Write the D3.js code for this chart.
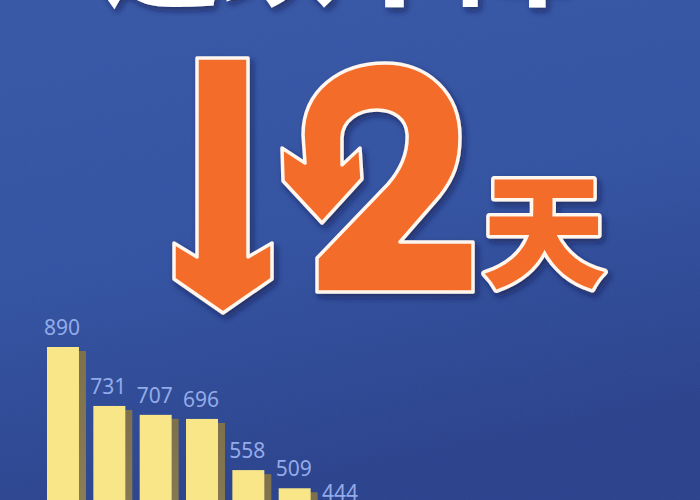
<!DOCTYPE html>
<html>
<head>
<meta charset="utf-8">
<script src="https://cdn.jsdelivr.net/npm/d3@7"></script>
<style>
    body { margin: 0; background: #2f4c9c; overflow: hidden; }
    svg { display: block; }
</style>
</head>
<body>
<svg id="chart" width="700" height="500"></svg>
<script>
// data
const headline = "连续下降";
const unitLabel = "天";
const ranks = [1, 2, 3, 4, 5, 6, 7];
const values = [890, 731, 707, 696, 558, 509, 444];

const width = 700, height = 500;
const svg = d3.select("#chart");
const orange = "#f36c2c";

const defs = svg.append("defs");

// background gradient
const bg = defs.append("linearGradient")
    .attr("id", "bg")
    .attr("x1", "0%").attr("x2", "30%")
    .attr("y1", "0%").attr("y2", "100%");
bg.append("stop").attr("offset", 0).attr("stop-color", "#3758a8");
bg.append("stop").attr("offset", 0.55).attr("stop-color", "#3252a2");
bg.append("stop").attr("offset", 1).attr("stop-color", "#2a428d");

// grainy paper texture
const grain = defs.append("filter").attr("id", "grain");
grain.append("feTurbulence")
    .attr("type", "fractalNoise")
    .attr("baseFrequency", 0.9)
    .attr("numOctaves", 2)
    .attr("result", "noise");
grain.append("feColorMatrix")
    .attr("type", "matrix")
    .attr("values", "0 0 0 0 0.1  0 0 0 0 0.15  0 0 0 0 0.35  0 0 0 0.35 0");

// drop shadow for the big shapes
const shadow = defs.append("filter").attr("id", "shadow")
    .attr("x", "-20%").attr("y", "-20%").attr("width", "140%").attr("height", "140%");
shadow.append("feDropShadow")
    .attr("dx", 3).attr("dy", 4)
    .attr("stdDeviation", 3)
    .attr("flood-color", "#0b1640")
    .attr("flood-opacity", 0.55);

// darker side of the bars
const side = defs.append("linearGradient")
    .attr("id", "side")
    .attr("x1", "0%").attr("x2", "0%")
    .attr("y1", "0%").attr("y2", "100%");
side.append("stop").attr("offset", 0).attr("stop-color", "#7d704c");
side.append("stop").attr("offset", 1).attr("stop-color", "#9a8b5c");

svg.append("rect")
    .attr("width", width).attr("height", height)
    .attr("fill", "url(#bg)");
svg.append("rect")
    .attr("width", width).attr("height", height)
    .attr("filter", "url(#grain)")
    .attr("opacity", 0.5);

// headline, cut off at the top edge
svg.append("text")
    .attr("x", 338)
    .attr("y", -4)
    .attr("text-anchor", "middle")
    .attr("font-family", "Noto Sans CJK SC")
    .attr("font-weight", 900)
    .attr("font-size", 118)
    .attr("fill", "#ffffff")
    .attr("filter", "url(#shadow)")
    .text(headline);

// big down arrow
const downArrow = "M197,58 L248,58 L248,257 L272,243 L272,279 L223,313 L174,279 L174,243 L197,257 Z";

// the "2" whose top stroke ends in a curled arrow
const curlTwo = [
    "M305,163 L303,135",
    "C303,90 340,63 385,63",
    "C428,63 460,93 460,137",
    "C460,162 454,178 440,196",
    "L400,242 L473,242 L473,292 L317,292 L317,258",
    "L388,184",
    "C401,169 408,152 407,134",
    "C406,119 394,110 377,110",
    "C358,110 342,121 342,138",
    "L342,165 L360,148 L362,179 L322,223 L283,181 L282,148 Z"
].join(" ");

const icons = svg.append("g").attr("filter", "url(#shadow)");
icons.selectAll("path")
    .data([downArrow, curlTwo])
    .join("path")
    .attr("d", d => d)
    .attr("fill", orange)
    .attr("stroke", "#fff6ee")
    .attr("stroke-width", 3.5)
    .attr("stroke-linejoin", "round");

// unit
svg.append("text")
    .attr("x", 544)
    .attr("y", 224)
    .attr("text-anchor", "middle")
    .attr("dominant-baseline", "central")
    .attr("font-family", "Noto Sans CJK SC")
    .attr("font-weight", 900)
    .attr("font-size", 124)
    .attr("fill", orange)
    .attr("stroke", "#fff6ee")
    .attr("stroke-width", 7)
    .attr("stroke-linejoin", "round")
    .attr("paint-order", "stroke")
    .attr("filter", "url(#shadow)")
    .text(unitLabel);

// bars
const x = d3.scaleBand()
    .domain(ranks)
    .range([47, 357])
    .paddingInner(0.31)
    .paddingOuter(0);

const y = d3.scaleLinear()
    .domain([0, 890])
    .range([677, 347]);

const sideWidth = 8;
const data = ranks.map((r, i) => ({ rank: r, value: values[i] }));

const bars = svg.append("g");
// shaded side of each bar
bars.selectAll(".side")
    .data(data)
    .join("rect")
    .attr("class", "side")
    .attr("x", d => x(d.rank) + x.bandwidth() - 1)
    .attr("y", d => y(d.value) + 4)
    .attr("width", sideWidth)
    .attr("height", d => y(0) - y(d.value))
    .attr("fill", "url(#side)");
// front face
bars.selectAll(".front")
    .data(data)
    .join("rect")
    .attr("class", "front")
    .attr("x", d => x(d.rank))
    .attr("y", d => y(d.value))
    .attr("width", x.bandwidth())
    .attr("height", d => y(0) - y(d.value))
    .attr("fill", "#f8e688");

// value labels
bars.selectAll(".label")
    .data(data)
    .join("text")
    .attr("class", "label")
    .attr("x", d => x(d.rank) + x.bandwidth() / 2 - 1)
    .attr("y", d => y(d.value) - 12)
    .attr("text-anchor", "middle")
    .attr("font-family", "Noto Sans")
    .attr("font-size", 21)
    .attr("fill", "#93abe8")
    .text(d => d.value);
</script>
</body>
</html>
